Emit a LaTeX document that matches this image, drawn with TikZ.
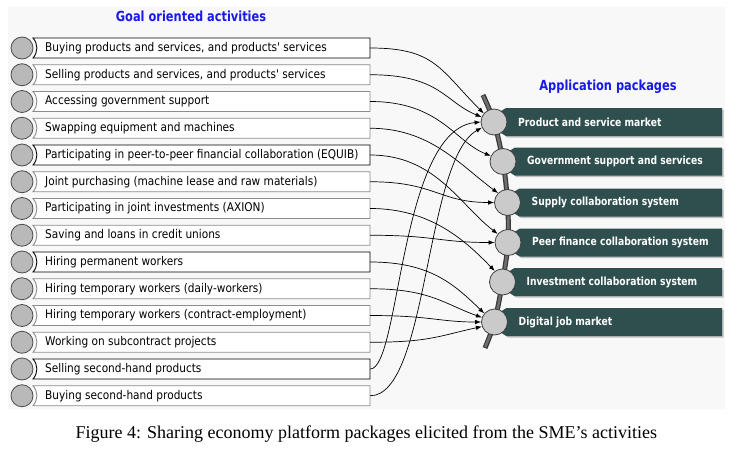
\documentclass[tikz,border=0pt]{standalone}
\usepackage{fontspec}
\setmainfont{Liberation Serif}
\newfontfamily\actfont[FakeStretch=0.88]{DejaVu Sans}
\newfontfamily\pkfont[FakeStretch=0.82]{DejaVu Sans}
\usetikzlibrary{arrows.meta}
\definecolor{panel}{RGB}{248,248,248}
\definecolor{slate}{RGB}{47,79,79}
\definecolor{ttlblue}{RGB}{25,25,235}
\definecolor{boxgray}{RGB}{140,140,140}
\definecolor{lcirc}{RGB}{185,185,185}
\definecolor{rcirc}{RGB}{202,202,202}
\definecolor{spinedark}{RGB}{55,55,55}
\definecolor{spinemid}{RGB}{110,110,110}
\begin{document}
\begin{tikzpicture}[x=1pt,y=1pt,
  actbox/.style={minimum width=337pt, minimum height=20pt, inner sep=0pt},
  acttext/.style={anchor=west, inner sep=0pt, font=\actfont\fontsize{12}{14}\selectfont},
  leftcirc/.style={circle, draw=black!70, fill=lcirc, line width=0.8pt, minimum size=22pt, inner sep=0pt},
  pkcirc/.style={circle, draw=black!75, fill=rcirc, line width=0.8pt, minimum size=26pt, inner sep=0pt},
  pklabel/.style={anchor=west, inner sep=0pt, text=white, font=\pkfont\bfseries\fontsize{11.2}{13}\selectfont},
  ttl/.style={inner sep=0pt, text=ttlblue, font=\pkfont\bfseries\fontsize{13.9}{16}\selectfont},
  conn/.style={line width=0.7pt, black, -{Latex[length=6pt,width=4.5pt]}}
]
\useasboundingbox (0,0) rectangle (740,-450);
\fill[white] (0,0) rectangle (740,-450);
\fill[panel] (8,-7) rectangle (725,-409);

% titles
\node[ttl] (gtitle) at (191,-16) {Goal oriented activities};
\node[ttl] (ptitle) at (608,-87) {Application packages};

% left activity rows
\foreach \i/\txt/\bc in {
  1/{Buying products and services, and products' services}/black,
  2/{Selling products and services, and products' services}/boxgray,
  3/{Accessing government support}/boxgray,
  4/{Swapping equipment and machines}/boxgray,
  5/{Participating in peer-to-peer financial collaboration (EQUIB)}/black,
  6/{Joint purchasing (machine lease and raw materials)}/boxgray,
  7/{Participating in joint investments (AXION)}/boxgray,
  8/{Saving and loans in credit unions}/boxgray,
  9/{Hiring permanent workers}/black,
  10/{Hiring temporary workers (daily-workers)}/boxgray,
  11/{Hiring temporary workers (contract-employment)}/boxgray,
  12/{Working on subcontract projects}/boxgray,
  13/{Selling second-hand products}/black,
  14/{Buying second-hand products}/boxgray}{
  \pgfmathsetmacro\Y{48+(\i-1)*26.75}
  \draw[\bc, fill=white, line width=0.9pt] (370,-\Y+10) -- (33,-\Y+10)
     arc[start angle=42.27, end angle=-42.27, radius=14.87] -- (370,-\Y-10) -- cycle;
  \node[actbox] (r\i) at (201.5,-\Y) {};
  \node[acttext] (s\i) at (45,-\Y) {\txt};
  \node[leftcirc] (c\i) at (22,-\Y) {};
}

% spine
\draw[spinedark, line width=5pt] plot[smooth, tension=0.55] coordinates
  {(483,-95) (494,-122) (503,-161.5) (507.5,-202.5) (508,-242.5) (502.5,-282) (494.5,-322) (485,-348)};
\draw[spinemid, line width=2.6pt] plot[smooth, tension=0.55] coordinates
  {(483.2,-96) (494,-122) (503,-161.5) (507.5,-202.5) (508,-242.5) (502.5,-282) (494.5,-322) (485.2,-347)};

% package boxes
\foreach \k/\cx/\cy in {1/494/122, 2/503/161.5, 3/507.5/202.5, 4/508/242.5, 5/502.5/282, 6/494.5/322}{
  \fill[black!25] (\cx+3.5,-\cy+6.5) -- (\cx+13.5,-\cy+12.5) -- (723.5,-\cy+12.5) -- (723.5,-\cy-15.5)
     -- (\cx+13.5,-\cy-15.5) -- (\cx+3.5,-\cy-8.5) -- cycle;
  \fill[slate] (\cx+2,-\cy+8) -- (\cx+12,-\cy+14) -- (722,-\cy+14) -- (722,-\cy-14)
     -- (\cx+12,-\cy-14) -- (\cx+2,-\cy-8) -- cycle;
}
\node[pkcirc] (p1) at (494,-122) {};
\node[pkcirc] (p2) at (503,-161.5) {};
\node[pkcirc] (p3) at (507.5,-202.5) {};
\node[pkcirc] (p4) at (508,-242.5) {};
\node[pkcirc] (p5) at (502.5,-282) {};
\node[pkcirc] (p6) at (494.5,-322) {};
\node[pklabel] (t1) at (518,-122) {Product and service market};
\node[pklabel] (t2) at (527,-161.5) {Government support and services};
\node[pklabel] (t3) at (531.5,-202.5) {Supply collaboration system};
\node[pklabel] (t4) at (532,-242.5) {Peer finance collaboration system};
\node[pklabel] (t5) at (526.5,-282) {Investment collaboration system};
\node[pklabel] (t6) at (518.5,-322) {Digital job market};

% connectors
\draw[conn] (r1.east) .. controls +(65,0) and +(-44,44) .. (p1.140);
\draw[conn] (r2.east) .. controls +(70,0) and +(-37,15) .. (p1.158);
\draw[conn] (r3.east) .. controls +(70,0) and +(-36,14) .. (p2.155);
\draw[conn] (r4.east) .. controls +(60,0) and +(-38,28) .. (p3.135);
\draw[conn] (r5.east) .. controls +(65,0) and +(-38,29) .. (p4.140);
\draw[conn] (r6.east) .. controls +(65,0) and +(-55,0) .. (p3.180);
\draw[conn] (r7.east) .. controls +(60,0) and +(-30,31) .. (p5.125);
\draw[conn] (r8.east) .. controls +(65,0) and +(-55,0) .. (p4.180);
\draw[conn] (r9.east) .. controls +(60,0) and +(-30,29) .. (p6.140);
\draw[conn] (r10.east) .. controls +(60,0) and +(-37,13) .. (p6.160);
\draw[conn] (r11.east) .. controls +(60,0) and +(-42,0) .. (p6.180);
\draw[conn] (r12.east) .. controls +(60,0) and +(-42,-9) .. (p6.200);
\draw[conn] (r13.east) .. controls +(30,0) and +(-81,-8) .. (p1.180);
\draw[conn] (r14.east) .. controls +(58,0) and +(-57,-32) .. (p1.205);

% caption
\node[inner sep=0pt] (cap) at (366.3,-434) {\fontsize{18}{21}\selectfont Figure 4: Sharing economy platform packages elicited from the SME’s activities};
\end{tikzpicture}
\end{document}
